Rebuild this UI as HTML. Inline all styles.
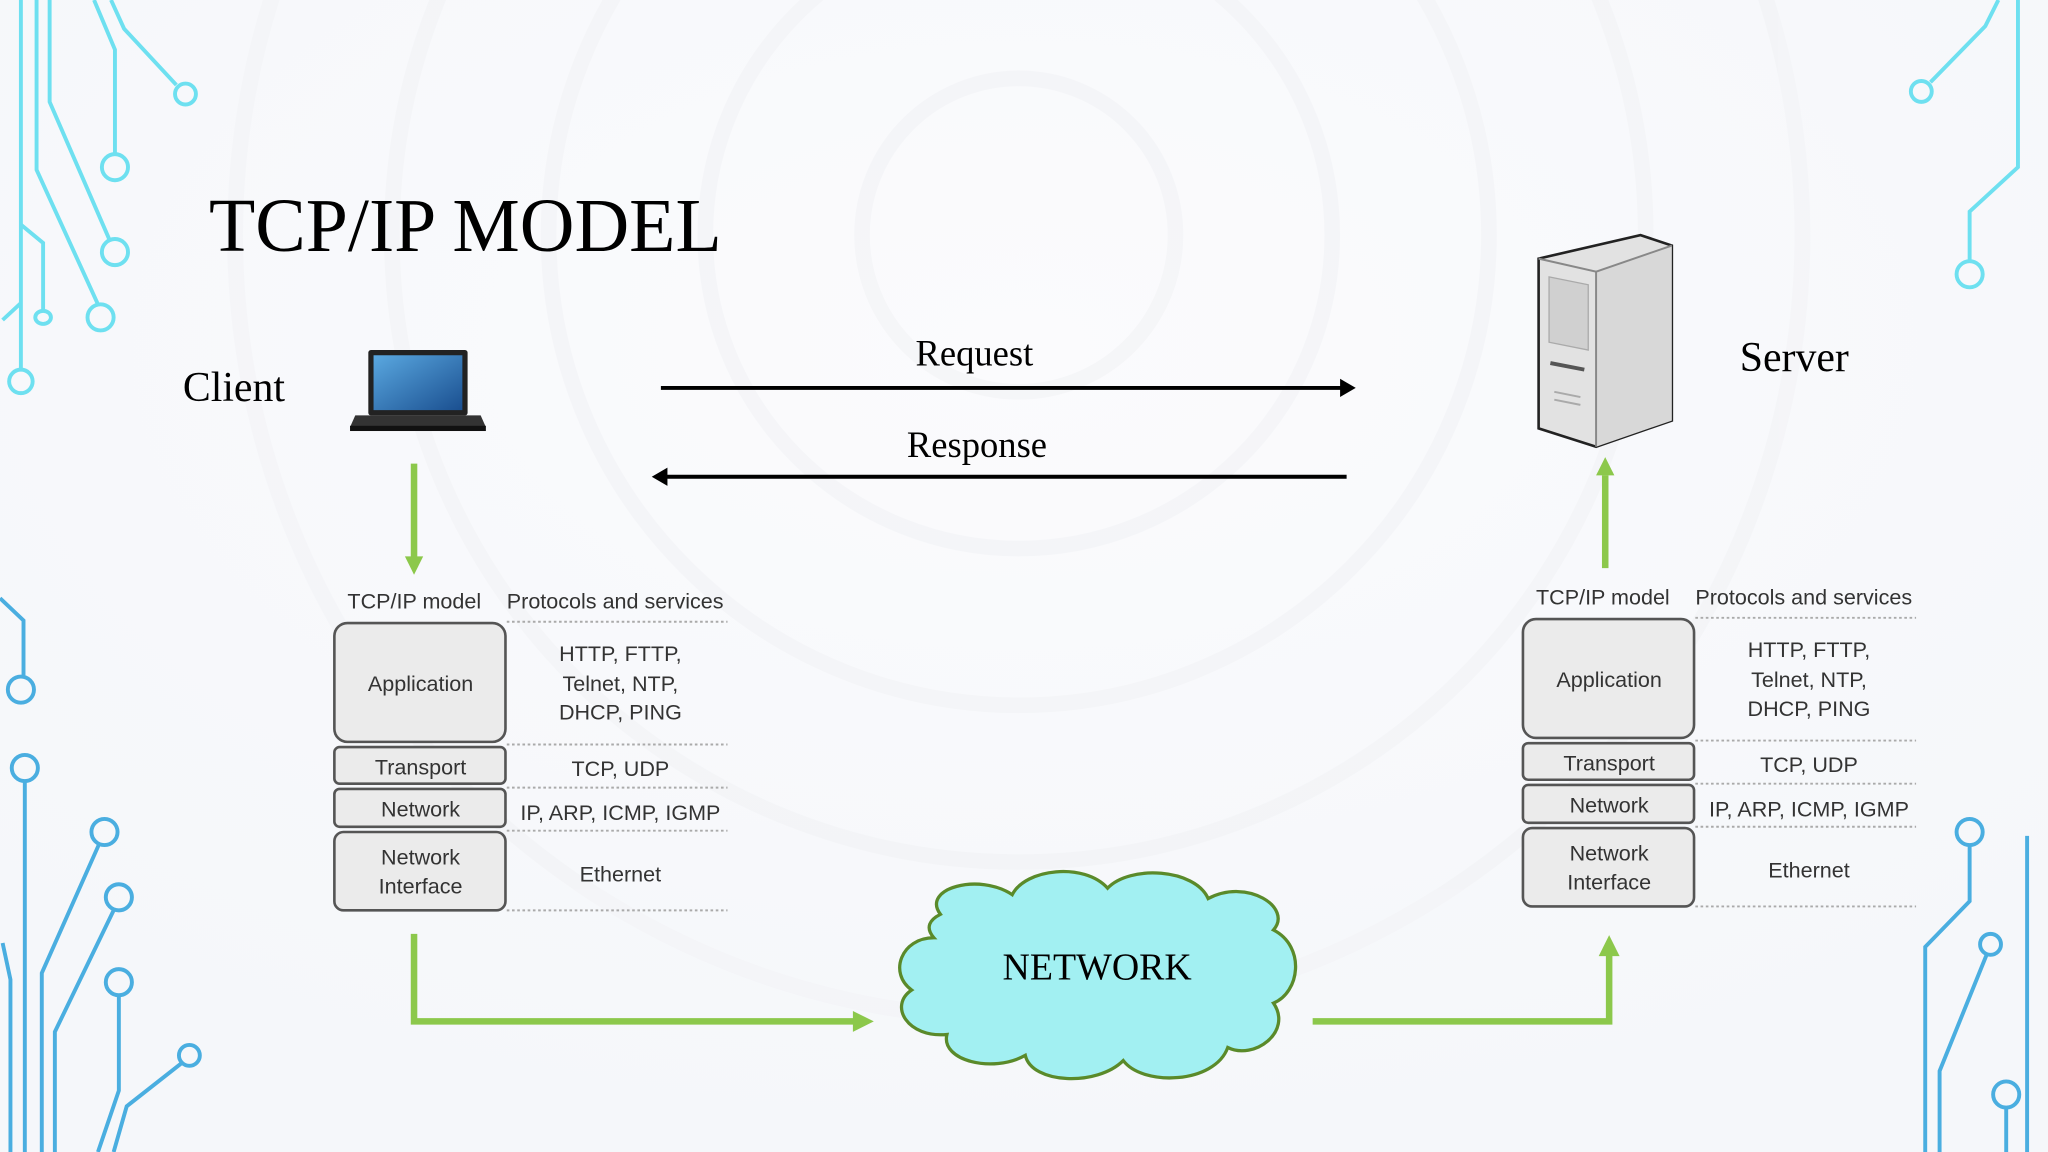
<!DOCTYPE html>
<html><head><meta charset="utf-8"><style>
html,body{margin:0;padding:0;background:#f8f9fb;}
svg{display:block;}
.tb{font-family:"Liberation Sans",sans-serif;fill:#333;}
</style></head><body>
<svg width="2048" height="1152" viewBox="0 0 1568 882" xmlns="http://www.w3.org/2000/svg">
<defs>
<radialGradient id="bg" cx="0.5" cy="0.3" r="0.7"><stop offset="0" stop-color="#fbfbfd"/><stop offset="1" stop-color="#f5f7fa"/></radialGradient>
<linearGradient id="scr" x1="0" y1="0" x2="1" y2="1"><stop offset="0" stop-color="#5aa8e0"/><stop offset="1" stop-color="#1a4f90"/></linearGradient>
</defs>
<rect width="1568" height="882" fill="url(#bg)"/>
<g fill="none" stroke="#f1f2f5" stroke-width="12" opacity="0.5">
<circle cx="780" cy="180" r="120"/><circle cx="780" cy="180" r="240"/><circle cx="780" cy="180" r="360"/><circle cx="780" cy="180" r="480"/><circle cx="780" cy="180" r="600"/>
</g>
<g fill="none" stroke="#6ee0f0" stroke-width="3">
<path d="M16 0V283"/><circle cx="16" cy="292" r="9"/>
<path d="M28 0V130L75 233"/><circle cx="77" cy="243" r="10"/>
<path d="M38 0V78L84 184"/><circle cx="88" cy="193" r="10"/>
<path d="M72 0L88 38V118"/><circle cx="88" cy="128" r="10"/>
<path d="M85 0L95 22L135 65"/><circle cx="142" cy="72" r="8"/>
<path d="M16 172L33 186V238"/><ellipse cx="33" cy="243" rx="6" ry="5"/>
<path d="M2 245L16 232"/>
</g>
<g fill="none" stroke="#4aaee0" stroke-width="3">
<path d="M0 458L18 475V518"/><circle cx="16" cy="528" r="10"/>
<circle cx="19" cy="588" r="10"/><path d="M19 598V882"/>
<circle cx="80" cy="637" r="10"/><path d="M76 646L32 745V882"/>
<circle cx="91" cy="687" r="10"/><path d="M87 697L42 790V882"/>
<circle cx="91" cy="752" r="10"/><path d="M91 762V835L75 882"/>
<circle cx="145" cy="808" r="8"/><path d="M139 814L97 847L87 882"/>
<path d="M2 722L8 750V882"/>
</g>
<g fill="none" stroke="#6ee0f0" stroke-width="3">
<path d="M1530 0L1520 20L1478 63"/><circle cx="1471" cy="70" r="8"/>
<path d="M1545 0V128L1508 162V200"/><circle cx="1508" cy="210" r="10"/>
</g>
<g fill="none" stroke="#4aaee0" stroke-width="3">
<circle cx="1508" cy="637" r="10"/><path d="M1508 647V690L1474 725V882"/>
<circle cx="1524" cy="723" r="8"/><path d="M1521 731L1485 820V882"/>
<circle cx="1536" cy="838" r="10"/><path d="M1536 848V882"/>
<path d="M1552 640V882"/>
</g>
<text x="160" y="192" font-family="Liberation Serif,serif" font-size="58" fill="#000">TCP/IP MODEL</text>
<text x="140" y="307" font-family="Liberation Serif,serif" font-size="32" fill="#000">Client</text>
<text x="1332" y="284" font-family="Liberation Serif,serif" font-size="32" fill="#000">Server</text>
<g>
<rect x="282" y="268" width="76" height="50" rx="2" fill="#222"/>
<rect x="286" y="272" width="68" height="42" fill="url(#scr)"/>
<path d="M272 318H368L372 327H268Z" fill="#333"/>
<rect x="268" y="326" width="104" height="4" fill="#111"/>
</g>
<g stroke="#222" stroke-width="2">
<path d="M1178 198L1256 180L1280 188V322L1222 342L1178 328Z" fill="#e2e2e2"/>
<path d="M1222 208L1280 188V322L1222 342Z" fill="#d8d8d8" stroke="none"/>
<path d="M1178 198L1222 208V342" fill="none" stroke="#888" stroke-width="1.5"/>
<path d="M1222 208L1280 188" fill="none" stroke="#888" stroke-width="1.5"/>
<path d="M1186 212L1216 218V268L1186 262Z" fill="#d0d0d0" stroke="#aaa" stroke-width="1"/>
<path d="M1187 278L1213 283" stroke="#555" stroke-width="3"/>
<path d="M1190 300L1210 304M1190 306L1210 310" stroke="#aaa" stroke-width="1.5"/>
</g>
<text x="746" y="280" text-anchor="middle" font-family="Liberation Serif,serif" font-size="28" fill="#000">Request</text>
<line x1="506" y1="297" x2="1028" y2="297" stroke="#000" stroke-width="3"/>
<path d="M1038 297L1026 290V304Z" fill="#000"/>
<text x="748" y="350" text-anchor="middle" font-family="Liberation Serif,serif" font-size="28" fill="#000">Response</text>
<line x1="510" y1="365" x2="1031" y2="365" stroke="#000" stroke-width="3"/>
<path d="M499 365L511 358V372Z" fill="#000"/>
<g stroke="#8cc84b" stroke-width="5" fill="none">
<path d="M317 355V428"/>
<path d="M1229 435V364"/>
<path d="M317 715V782H655"/>
<path d="M1005 782H1232V730"/>
</g>
<g fill="#8cc84b">
<path d="M317 440L310 426H324Z"/>
<path d="M1229 350L1222 364H1236Z"/>
<path d="M669 782L653 774V790Z"/>
<path d="M1232 716L1224 732H1240Z"/>
</g>
<path d="M720 700C705 680 750 668 775 685C785 665 830 660 848 680C865 662 915 665 925 688C955 672 990 695 975 712C1000 725 995 760 975 768C990 790 960 812 940 802C930 830 875 832 860 812C840 832 790 830 785 808C760 822 720 812 725 792C695 795 680 770 698 758C680 745 690 718 715 718C708 710 712 704 720 700Z" fill="#a2f0f2" stroke="#5a8a2a" stroke-width="2.5"/>
<text x="840" y="750" text-anchor="middle" font-family="Liberation Serif,serif" font-size="29" fill="#000">NETWORK</text>
<g id="tbl">
<text class="tb" x="266" y="466" font-size="16.5">TCP/IP model</text>
<text class="tb" x="388" y="466" font-size="16.5">Protocols and services</text>
<g stroke="#aaa" stroke-width="1.5" stroke-dasharray="2 2">
<line x1="388" y1="476" x2="557" y2="476"/><line x1="388" y1="570" x2="557" y2="570"/>
<line x1="388" y1="603" x2="557" y2="603"/><line x1="388" y1="636" x2="557" y2="636"/>
<line x1="388" y1="697" x2="557" y2="697"/>
</g>
<g fill="#ebebeb" stroke="#555" stroke-width="2">
<rect x="256" y="477" width="131" height="91" rx="10"/>
<rect x="256" y="572" width="131" height="28" rx="4"/>
<rect x="256" y="604" width="131" height="29" rx="4"/>
<rect x="256" y="637" width="131" height="60" rx="7"/>
</g>
<g class="tb" font-size="16.5" text-anchor="middle">
<text x="322" y="529">Application</text>
<text x="322" y="593">Transport</text>
<text x="322" y="625">Network</text>
<text x="322" y="662">Network</text>
<text x="322" y="684">Interface</text>
<text x="475" y="506">HTTP, FTTP,</text>
<text x="475" y="529">Telnet, NTP,</text>
<text x="475" y="551">DHCP, PING</text>
<text x="475" y="594">TCP, UDP</text>
<text x="475" y="628">IP, ARP, ICMP, IGMP</text>
<text x="475" y="675">Ethernet</text>
</g>
</g>
<use href="#tbl" transform="translate(910,-3)"/>
</svg>
</body></html>
